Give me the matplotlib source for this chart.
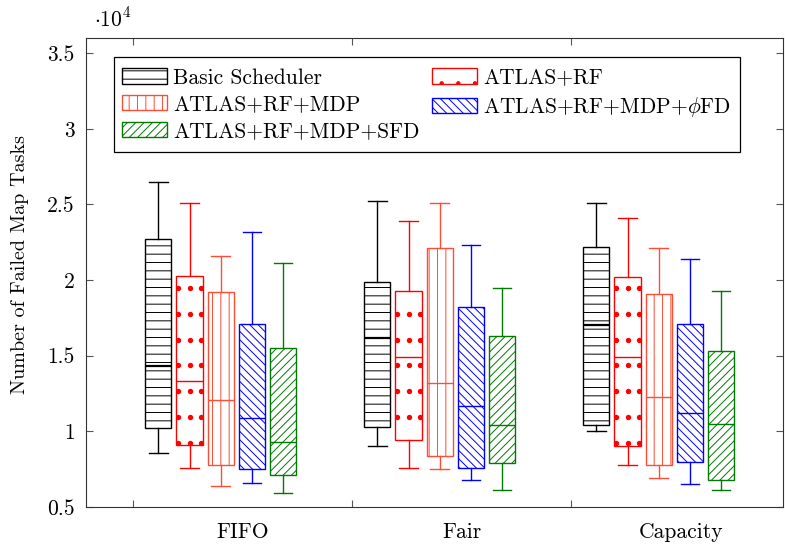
import numpy as np
import matplotlib
matplotlib.use("Agg")
import matplotlib.pyplot as plt
from matplotlib.patches import Patch, Rectangle

plt.rcParams['font.family'] = ['cmr10']
plt.rcParams['mathtext.fontset'] = 'cm'
plt.rcParams['axes.unicode_minus'] = False
plt.rcParams['axes.formatter.use_mathtext'] = True
plt.rcParams['hatch.linewidth'] = 0.7

# 数据 (单位 10^4)
groups = ['FIFO', 'Fair', 'Capacity']
series = ['Basic Scheduler', 'ATLAS+RF', 'ATLAS+RF+MDP',
          r'ATLAS+RF+MDP+$\phi$FD', 'ATLAS+RF+MDP+SFD']

# 每个箱子: [下须, 下四分位, 中位数, 上四分位, 上须]
basic = [[0.86, 1.02, 1.43, 2.27, 2.65],
         [0.90, 1.03, 1.62, 1.99, 2.52],
         [1.00, 1.04, 1.70, 2.22, 2.51]]
atlas_rf = [[0.76, 0.91, 1.33, 2.03, 2.51],
            [0.76, 0.94, 1.49, 1.93, 2.39],
            [0.78, 0.90, 1.49, 2.02, 2.41]]
atlas_mdp = [[0.64, 0.78, 1.21, 1.92, 2.16],
             [0.75, 0.84, 1.32, 2.21, 2.51],
             [0.69, 0.78, 1.23, 1.91, 2.21]]
atlas_phi = [[0.66, 0.75, 1.09, 1.71, 2.32],
             [0.68, 0.76, 1.17, 1.82, 2.23],
             [0.65, 0.80, 1.12, 1.71, 2.14]]
atlas_sfd = [[0.59, 0.71, 0.93, 1.55, 2.11],
             [0.61, 0.79, 1.04, 1.63, 1.95],
             [0.61, 0.68, 1.05, 1.53, 1.93]]

all_data = [basic, atlas_rf, atlas_mdp, atlas_phi, atlas_sfd]
colors = ['black', '#ff0000', '#ff4d33', '#0000ff', '#007a00']
hatches = ['--', '', '||', '\\\\\\\\', '////']

fs = 15.5
fig = plt.figure(figsize=(7.85, 5.5), dpi=100)
ax = fig.add_axes([0.1096, 0.0782, 0.888, 0.8527])

width = 0.12
for k, (data, c, h) in enumerate(zip(all_data, colors, hatches)):
    stats = []
    for d in data:
        stats.append({'whislo': d[0], 'q1': d[1], 'med': d[2], 'q3': d[3],
                      'whishi': d[4], 'fliers': []})
    pos = [g + 1 + 0.4 + (k - 2) * 0.1425 for g in range(len(groups))]
    bp = ax.bxp(stats, positions=pos, widths=width, patch_artist=True,
                showfliers=False, capwidths=0.085, manage_ticks=False,
                boxprops=dict(facecolor='white', edgecolor=c, linewidth=1.0, hatch=h),
                medianprops=dict(color=c, linewidth=1.6 if k == 0 else 1.0),
                whiskerprops=dict(color=c, linewidth=1.0),
                capprops=dict(color=c, linewidth=1.0))
    if k == 1:
        # 红色圆点图案
        dy = np.arange(0.921, 3.6, 0.1715)
        for p, box in zip(pos, bp['boxes']):
            xx, yy = np.meshgrid([p - 0.052, p, p + 0.052], dy)
            sc = ax.scatter(xx.ravel(), yy.ravel(), s=15, color=c, lw=0, zorder=3)
            sc.set_clip_path(box)

ax.set_xlim(0.785, 3.968)
ax.set_ylim(0.5, 3.6)
ax.set_yticks([0.5, 1, 1.5, 2, 2.5, 3, 3.5])
ax.set_yticklabels(['0.5', '1', '1.5', '2', '2.5', '3', '3.5'])
ax.set_xticks([1, 2, 3])
ax.set_xticklabels([])
ax.set_xticks([1.5, 2.5, 3.5], minor=True)
ax.set_xticklabels(groups, minor=True)
ax.tick_params(axis='both', which='major', direction='in', length=5,
               top=True, right=True, color='#555555', labelsize=fs, pad=8)
ax.tick_params(axis='x', which='minor', length=0, labelsize=fs, pad=11)
for s in ax.spines.values():
    s.set_linewidth(0.8)
    s.set_color('#333333')

ax.set_ylabel('Number of Failed Map Tasks', fontsize=14.5, va='center')
ax.yaxis.set_label_coords(-0.095, 0.518)
ax.text(0.012, 1.015, r'$\cdot 10^4$', transform=ax.transAxes, fontsize=fs,
        va='bottom', ha='left')

handles = []
for c, h in zip(colors, hatches):
    handles.append(Patch(facecolor='white', edgecolor=c, hatch=h if h else '.', lw=1.0))
# 按行排列: 两列
order = [0, 2, 4, 1, 3]
ax.legend([handles[i] for i in order], [series[i] for i in order], ncol=2,
          loc='upper left', bbox_to_anchor=(0.0516, 0.936), frameon=False,
          fontsize=fs, borderaxespad=0, borderpad=0, handlelength=2.09,
          handleheight=0.7, handletextpad=0.28, labelspacing=0.34,
          columnspacing=0.6)
ax.add_patch(Rectangle((0.0402, 0.757), 0.8977, 0.2025, transform=ax.transAxes,
                       fill=False, edgecolor='black', lw=0.9, zorder=5))

fig.savefig('out.png', dpi=100)
